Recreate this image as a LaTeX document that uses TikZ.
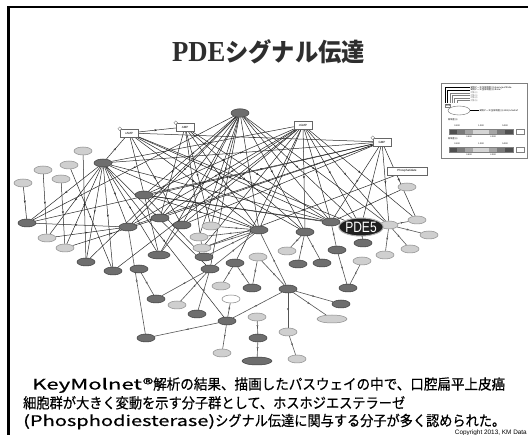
\documentclass[tikz,border=0pt]{standalone}
\usepackage{fontspec}
\setmainfont{Liberation Serif}
\newfontfamily\arial{Liberation Sans}
\newfontfamily\jp{Noto Sans CJK JP}
\newfontfamily\jpm{Noto Sans CJK JP}[FakeBold=0.5]
\usetikzlibrary{shapes.geometric,arrows.meta,decorations.markings}
\pgfdeclarelayer{bglayer}
\pgfdeclarelayer{edgelayer}
\pgfsetlayers{bglayer,edgelayer,main}
\definecolor{dkfill}{HTML}{6E6E6E}
\definecolor{dkdraw}{HTML}{3C3C3C}
\definecolor{ltfill}{HTML}{CFCFCF}
\definecolor{ltdraw}{HTML}{8A8A8A}
\definecolor{edgetop}{HTML}{2A2A2A}
\definecolor{edgebot}{HTML}{555555}
\definecolor{titlecol}{HTML}{2E2E2E}
\newcommand\tfnt{\fontsize{3}{3}\selectfont\arial}
\newcommand\lgfnt{\fontsize{2.2}{2.4}\selectfont\jp}
\tikzset{
  nd/.style={ellipse, minimum width=18pt, minimum height=8pt, inner sep=0pt, line width=0.5pt},
  dk/.style={nd, fill=dkfill, draw=dkdraw},
  lt/.style={nd, fill=ltfill, draw=ltdraw},
  wt/.style={nd, fill=white, draw=gray},
  bx/.style={rectangle, draw=gray!80!black, fill=white, minimum width=18pt, minimum height=8pt, inner sep=0.5pt, font=\tfnt, line width=0.5pt},
  midarr/.style={postaction={decorate}, decoration={markings, mark=at position 0.5 with {\arrow{Stealth[length=2.4pt,width=2pt]}}}},
  etop/.style={draw=edgetop, line width=0.5pt, midarr},
  ebot/.style={draw=edgebot, line width=0.6pt, midarr},
  icon/.style={draw=gray, fill=white, line width=0.4pt}
}
\begin{document}
\begin{tikzpicture}[x=1pt,y=-1pt]
\useasboundingbox (0,0) rectangle (528,435);
\begin{pgfonlayer}{bglayer}
\fill[white] (0,0) rectangle (528,435);
\end{pgfonlayer}
% frame
\draw[black, line width=2.4pt] (8.6,435) -- (8.6,7.2) -- (528,7.2);

% title
\node[text=titlecol, inner sep=0pt] (title) at (268.5,52) {\scalebox{0.92}[1]{\fontsize{29}{29}\selectfont\bfseries PDE}\scalebox{0.93}[1]{\fontsize{25}{25}\selectfont\jp\bfseries シグナル伝達}};

% ---------- nodes ----------
\node[dk, minimum height=8.5pt] (pkg) at (240,113) {};
\node[bx] (camp) at (129,133) {cAMP};
\node[bx] (amp) at (185,127) {AMP};
\node[bx] (cgmp) at (303,125) {cGMP};
\node[bx] (gmp) at (382,142) {GMP};
\node[bx, minimum width=40pt] (phos) at (407,171) {Phosphatidate};
\draw[icon] (camp.north west) circle (1.8pt);
\draw[icon] (amp.north west) circle (1.8pt);
\draw[icon] (gmp.north west) circle (1.8pt);
\node[lt] (n1) at (407,187) {};
\node[dk] (a1) at (103,163) {};
\node[lt] (L1) at (83,151) {};
\node[lt] (L2) at (69,165) {};
\node[lt] (L3) at (43,170) {};
\node[lt] (L4) at (61,179) {};
\node[lt] (L5) at (23,183) {};
\node[dk] (d2) at (144,195) {};
\node[dk] (d3) at (160,218) {};
\node[dk] (m1) at (27,223) {};
\node[lt] (m2) at (47,238) {};
\node[lt] (m3) at (65,248) {};
\node[dk] (m4) at (86,262) {};
\node[dk] (m5) at (113,271) {};
\node[dk] (m6) at (128,227) {};
\node[dk] (m8) at (182,225) {};
\node[lt] (m9) at (211,226) {};
\node[dk] (m10) at (259,230) {};
\node[lt] (m11) at (199,237) {};
\node[lt] (m12) at (202,248) {};
\node[dk] (m13) at (204,257) {};
\node[dk, minimum width=22pt] (m14) at (159,255) {};
\node[dk] (m15) at (139,269) {};
\node[dk] (m16) at (210,269) {};
\node[dk] (m17) at (235,263) {};
\node[lt] (m18) at (258,257) {};
\node[lt] (m19) at (221,286) {};
\node[dk] (m20) at (252,288) {};
\node[dk] (m21) at (156,299) {};
\node[lt] (m22) at (177,305) {};
\node[dk] (m23) at (197,314) {};
\node[wt] (m24) at (231,299) {};
\node[dk] (m25) at (227,321) {};
\node[lt] (m26) at (257,317) {};
\node[dk] (m27) at (146,338) {};
\node[dk] (m28) at (258,338) {};
\node[lt] (m29) at (222,353) {};
\node[dk, minimum width=30pt] (m30) at (257,361) {};
\node[dk] (r1) at (331,222) {};
\node[lt] (r2) at (389,225) {};
\node[lt] (r3) at (417,220) {};
\node[lt] (r4) at (429,235) {};
\node[dk] (r5) at (305,232) {};
\node[dk] (r6) at (363,243) {};
\node[lt] (r7) at (287,251) {};
\node[dk] (r8) at (337,250) {};
\node[lt] (r9) at (385,255) {};
\node[lt] (r10) at (410,249) {};
\node[dk] (r11) at (298,264) {};
\node[dk] (r12) at (322,263) {};
\node[lt] (r13) at (362,261) {};
\node[dk] (r14) at (348,288) {};
\node[dk] (r15) at (288,289) {};
\node[dk] (r16) at (341,304) {};
\node[lt, minimum width=30pt] (r17) at (332,319) {};
\node[lt] (r18) at (288,332) {};
\node[lt] (r19) at (297,359) {};
\node[ellipse, fill=black!88, draw=gray!60, line width=1pt, minimum width=42pt, minimum height=18pt, inner sep=0pt, text=white] (pde5) at (361,227) {\scalebox{0.8}[1]{\fontsize{15}{15}\selectfont\arial PDE5}};

% ---------- edges ----------
\begin{pgfonlayer}{edgelayer}
\foreach \a/\b in {a1/camp, camp/amp,
  pkg/m1, pkg/m6, pkg/d2, pkg/d3, pkg/m8, pkg/m9, pkg/m11, pkg/m14, pkg/m10, pkg/r5, pkg/r1, pkg/pde5, pkg/r2, pkg/m16, pkg/m4,
  cgmp/a1, cgmp/d2, cgmp/d3, cgmp/m6, cgmp/m8, cgmp/m10, cgmp/m12, cgmp/r5, cgmp/r1, cgmp/pde5, cgmp/r2, cgmp/r3, cgmp/m5, cgmp/m17,
  a1/gmp, d2/gmp, d3/gmp, m6/gmp, m1/gmp, m8/gmp, camp/gmp, gmp/pde5, gmp/r1, gmp/r3, gmp/r2,
  camp/m10, camp/r5, camp/r1, camp/m14, camp/pde5, camp/m8,
  amp/d3, amp/m9, amp/m12, amp/r5, amp/m10, amp/r1,
  a1/m1, a1/m2, a1/m3, a1/m4, a1/m5, a1/m6, a1/m14, a1/m16, a1/r1, a1/m25, a1/m10,
  d2/r1, d2/m10, d2/pde5, d2/m13,
  L1/m4, L2/m5, L3/m2, L4/m3, L5/m1, m1/m6, m2/m6, m3/d3,
  phos/m12, n1/r1}
  \draw[etop] (\a) -- (\b);
\foreach \a/\b in {m10/m11, m10/m12, m10/m13, m10/m9, m8/m14, m15/m21, m16/m21, m16/m22, m16/m23, m16/m10,
  m17/m19, m17/m20, m18/m20, m24/m25, m25/m27, m25/m29, m25/r15, m6/m27, m26/m28, m28/m30,
  r5/r11, r5/r12, r5/r7, r1/r8, r8/r14, r13/r14,
  pde5/r6, pde5/r2, r2/r4, r2/r9, r2/r10, r2/r3,
  r15/r16, r15/r17, r15/r18, r18/r19, r15/m18, r15/m10}
  \draw[ebot] (\a) -- (\b);
\end{pgfonlayer}

% ---------- legend ----------
\draw[gray, line width=0.5pt, fill=white] (441,83) rectangle (527,158);
\foreach \i/\c in {0/black,1/black,2/gray,3/gray,4/gray,5/gray} {
  \draw[\c, line width=0.35pt] (445+2.4*\i,103) -- (445+2.4*\i,87.5+2.6*\i) -- (470,87.5+2.6*\i);
}
\node[anchor=west, inner sep=0.3pt, text=black] (lg0) at (470,87.5) {\lgfnt 発現データ(全発現差)(1) Average of Ratio};
\node[anchor=west, inner sep=0.3pt, text=black] (lg1) at (470,90.1) {\lgfnt 発現データ(全発現差)(2) Ratio};
\foreach \i in {2,3,4,5} \node[anchor=west, inner sep=0.3pt, text=gray] at (470,87.5+2.6*\i) {\lgfnt 対象(\i)};
\node[draw=gray, fill=white, inner sep=0.4pt, line width=0.3pt] (lgb) at (448,105.5) {\lgfnt PDE};
\node[ellipse, draw=gray!80!black, fill=white, minimum width=22pt, minimum height=9pt, inner sep=0pt, line width=0.4pt] (lge) at (459,110.5) {};
\coordinate (lgt) at (479,110.5);
\draw[black, line width=0.4pt] (lge) -- (lgt);
\node[anchor=west, inner sep=0.3pt] at (lgt) {\lgfnt 発現データ(全発現差)(1) 1000/a NaDaT};
\foreach \yy/\lab in {120/発現差(1), 139/発現差(2)} {
  \node[anchor=west, inner sep=0pt] at (448,\yy) {\lgfnt \lab};
}
\foreach \yb in {129,147} {
  \foreach \k/\col in {0/505050,1/7A7A7A,2/A5A5A5,3/D5D5D5,4/D5D5D5,5/A5A5A5,6/7A7A7A,7/505050} {
    \definecolor{segc}{HTML}{\col}
    \fill[segc] (449+8*\k,\yb) rectangle (457+8*\k,\yb+5.5);
  }
  \draw[gray, line width=0.3pt] (449,\yb) rectangle (513,\yb+5.5);
  \draw[gray, line width=0.3pt, fill=white] (516,\yb) rectangle (524,\yb+5.5);
  \foreach \xx/\t in {457/0.200,481/1.000,505/5.000} \node[inner sep=0pt] at (\xx,\yb-3) {\lgfnt \t};
  \foreach \xx/\t in {469/0.500,493/2.000} \node[inner sep=0pt] at (\xx,\yb+8) {\lgfnt \t};
}

% ---------- text ----------
\node[anchor=base west, inner sep=0pt] (line1) at (32,389.5) {\resizebox{121pt}{\height}{\fontsize{14.5}{14.5}\selectfont\jpm KeyMolnet®}\resizebox{352pt}{\height}{\fontsize{14.5}{14.5}\selectfont\jpm 解析の結果、描画したパスウェイの中で、口腔扁平上皮癌}};
\node[anchor=base west, inner sep=0pt] (line2) at (23,408.3) {\resizebox{382pt}{\height}{\fontsize{14.5}{14.5}\selectfont\jpm 細胞群が大きく変動を示す分子群として、ホスホジエステラーゼ}};
\node[anchor=base west, inner sep=0pt] (line3) at (23,426) {\resizebox{192pt}{\height}{\fontsize{14.5}{14.5}\selectfont\jpm (Phosphodiesterase)}\resizebox{290pt}{\height}{\fontsize{14.5}{14.5}\selectfont\jpm シグナル伝達に関与する分子が多く認められた。}};
\node[anchor=east, inner sep=0pt] (copy) at (527,432.6) {\fontsize{6.4}{7}\selectfont\arial Copyright 2013, KM Data};
\end{tikzpicture}
\end{document}
